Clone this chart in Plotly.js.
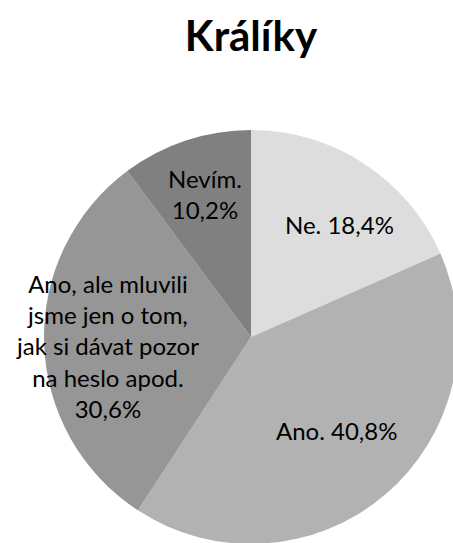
<!DOCTYPE html>
<html>
<head>
<meta charset="utf-8">
<script src="https://cdn.plot.ly/plotly-3.0.1.min.js"></script>
<style>
html,body{margin:0;padding:0;overflow:hidden;background:#fff;}
#chart{width:502px;height:544px;}
</style>
</head>
<body>
<div id="chart"></div>
<script>
const chartTitle = "Králíky";
const categories = ["Ne.", "Ano.", "Ano, ale mluvili<br>jsme jen o tom,<br>jak si dávat pozor<br>na heslo apod.", "Nevím."];
const values = [18.4, 40.8, 30.6, 10.2];
const percentLabels = ["18,4%", "40,8%", "30,6%", "10,2%"];
const sliceColors = ["#dddddd", "#b2b2b2", "#969696", "#808080"];
// label layout (style): separator between name and percent, radial fraction, angle nudge (deg)
const labelSep = [" ", " ", "<br>", "<br>"];
const labelRadius = [0.69, 0.61, 0.697, 0.725];
const labelAngleNudge = [5, -2, -1.8, 0.6];

const W = 502, H = 544, T = 130;
const R = Math.min(W, H - T) / 2;
const cx = W / 2, cy = T + R;

const annotations = [];
const total = values.reduce((a, b) => a + b, 0);
let cum = 0;
values.forEach((v, i) => {
  const mid = (cum + v / 2) / total * 360 + labelAngleNudge[i];
  cum += v;
  const a = mid * Math.PI / 180;
  const px = cx + Math.sin(a) * R * labelRadius[i];
  const py = cy - Math.cos(a) * R * labelRadius[i];
  annotations.push({
    text: categories[i] + labelSep[i] + percentLabels[i],
    xref: "paper", yref: "paper",
    x: px / W, y: (H - py) / (H - T),
    xanchor: "center", yanchor: "middle",
    showarrow: false, align: "center",
    font: {family: "Lato, sans-serif", size: 24, color: "#000"}
  });
});

Plotly.newPlot("chart", [{
  type: "pie",
  labels: categories,
  values: values,
  sort: false,
  direction: "clockwise",
  rotation: 0,
  marker: {colors: sliceColors, line: {width: 0}},
  textinfo: "none",
  hoverinfo: "none",
  domain: {x: [0, 1], y: [0, 1]}
}], {
  width: W, height: H,
  margin: {l: 0, r: 0, t: T, b: 0},
  showlegend: false,
  paper_bgcolor: "#fff",
  title: {
    text: "<b>" + chartTitle + "</b>",
    x: 0.5, xanchor: "center",
    y: 1 - 36 / H, yanchor: "middle",
    font: {family: "Lato, sans-serif", size: 42, color: "#000"}
  },
  annotations: annotations
}, {staticPlot: true, displayModeBar: false});
</script>
</body>
</html>
